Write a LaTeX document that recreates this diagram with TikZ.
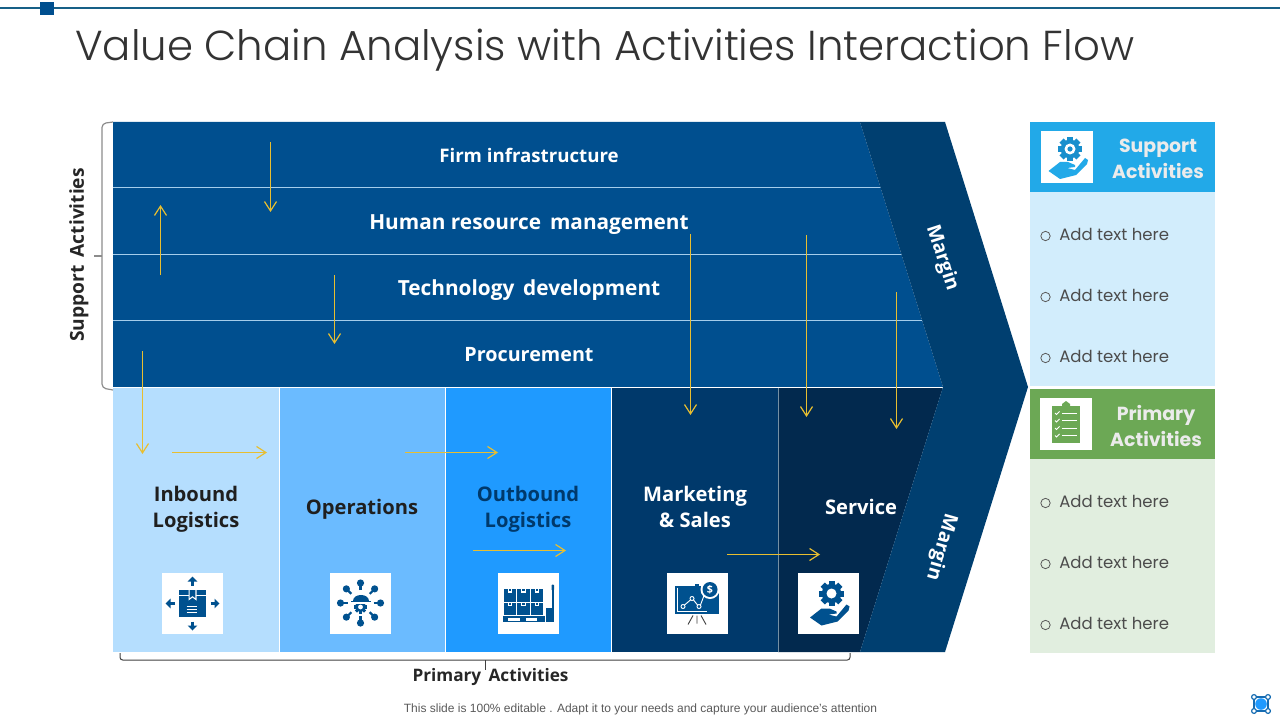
\documentclass[tikz,border=0pt]{standalone}
\usepackage{fontspec}
\setmainfont{Open Sans}
\newfontfamily\titlefont[UprightFont=* Light]{Poppins}
\newfontfamily\panelfont{Poppins}
\newfontfamily\footfont{Liberation Sans}
\definecolor{bandblue}{HTML}{004F8F}
\definecolor{chevblue}{HTML}{003F70}
\definecolor{colA}{HTML}{B5DEFE}
\definecolor{colB}{HTML}{6BBBFF}
\definecolor{colC}{HTML}{1F9AFF}
\definecolor{colD}{HTML}{00396B}
\definecolor{colE}{HTML}{02294E}
\definecolor{goldline}{HTML}{E8BE30}
\definecolor{rowline}{HTML}{A5CDEB}
\definecolor{supHead}{HTML}{22A9E8}
\definecolor{supBody}{HTML}{D2EDFC}
\definecolor{priHead}{HTML}{6CA855}
\definecolor{priBody}{HTML}{E1EEDF}
\definecolor{icon}{HTML}{00518F}
\usetikzlibrary{arrows.meta}
\tikzset{
  x=0.75pt,y=-0.75pt,
  flowarrow/.style={draw=goldline,line width=1pt,-{Straight Barb[length=7pt,width=9pt,line width=0.9pt]}},
  bandtext/.style={text=white,font=\fontsize{15.6}{18}\selectfont\bfseries,inner sep=0pt,anchor=base},
  coltext/.style={font=\fontsize{15.1}{19.5}\selectfont\bfseries,inner sep=0pt,align=center},
  margintext/.style={text=white,font=\fontsize{14.5}{17}\selectfont\bfseries,inner sep=0pt},
  sidelabel/.style={text=black!85,inner sep=0pt},
  headtext/.style={text=white!92!black,font=\panelfont\fontsize{14.2}{19.5}\selectfont\bfseries,inner sep=0pt,align=center},
  bullettext/.style={text=black!70,font=\panelfont\fontsize{12.4}{16}\selectfont,inner sep=0pt,anchor=west},
  bulletmark/.style={circle,draw=black!65,line width=0.6pt,minimum size=7pt,inner sep=0pt},
  iconbox/.style={fill=white,draw=none,minimum width=45.75pt,minimum height=45.75pt,inner sep=0pt},
  smallbox/.style={fill=white,draw=none,minimum width=39pt,minimum height=39pt,inner sep=0pt},
}
\newcommand{\gearshape}[4]{% x y outer colour
  \fill[#4] (#1,#2) circle ({#3*0.78});
  \foreach \a in {0,45,...,315}
    \fill[#4,rotate around={\a:(#1,#2)}] ({#1-#3*0.24},{#2-#3}) rectangle ({#1+#3*0.24},{#2});
}
\newcommand{\handshape}[2]{% scale colour
  \fill[#2,scale=#1,line join=round] (-18.5,14) -- (-7,5) -- (1,5) -- (8,8) -- (8,10) -- (0,11) -- (8,13) -- (18,1) -- (21,3) -- (20,7) -- (9,18) -- (-7,22) -- cycle;
}
\begin{document}
\begin{tikzpicture}
\useasboundingbox (0,0) rectangle (1280,720);
% top rule
\draw[color={rgb:red,19;green,79;blue,111},line width=1.5pt] (0,8) -- (1280,8);
\fill[bandblue] (40,2) rectangle (54,15);
\node[inner sep=0pt,anchor=base west,text=black!80,font=\titlefont\fontsize{31.4}{38}\selectfont] (title) at (75,61) {Value Chain Analysis with Activities Interaction Flow};
% columns
\fill[colA] (113,387) rectangle (279.5,652);
\fill[colB] (279.5,387) rectangle (445.5,652);
\fill[colC] (445.5,387) rectangle (611.5,652);
\fill[colD] (611.5,387) rectangle (778,652);
\fill[colE] (778,387) -- (943,387) -- (860,652) -- (778,652) -- cycle;
\draw[white,line width=0.75pt] (279.5,387) -- (279.5,652);
\draw[white,line width=0.75pt] (445.5,387) -- (445.5,652);
\draw[white,line width=0.75pt] (611.5,387) -- (611.5,652);
\draw[rowline!70!black,line width=0.75pt] (778,387) -- (778,652);
% band
\fill[bandblue] (113,122) -- (860,122) -- (943,387) -- (113,387) -- cycle;
\draw[rowline,line width=0.75pt] (113,188) -- (881,188);
\draw[rowline,line width=0.75pt] (113,254) -- (902,254);
\draw[rowline,line width=0.75pt] (113,320) -- (923,320);
\draw[white,line width=0.75pt] (113,387) -- (943,387);
% chevron
\fill[chevblue] (860,122) -- (945,122) -- (1028,387) -- (945,652) -- (860,652) -- (943,387) -- cycle;
% band text
\node[bandtext,font=\fontsize{14}{18}\selectfont\bfseries] (firm) at (529,163) {Firm infrastructure};
\node[bandtext] (hr) at (529,229) {Human resource\, management};
\node[bandtext] (tech) at (529,295) {Technology\, development};
\node[bandtext,font=\fontsize{14.8}{18}\selectfont\bfseries] (proc) at (529,361) {Procurement};
\node[margintext,rotate=-72] (m1) at (942,258) {Margin};
\node[margintext,rotate=-106] (m2) at (941,547) {Margin};
% columns text
\node[coltext,text=black!88] (inb) at (196,509) {Inbound\\Logistics};
\node[coltext,text=black!88] (ops) at (362,509) {Operations};
\node[coltext,text=colD] (outb) at (528,509) {Outbound\\Logistics};
\node[coltext,text=white] (mkt) at (695,507) {Marketing\\\& Sales};
\node[coltext,text=white] (svc) at (861,507) {Service};
% icon boxes
\node[iconbox] (i1) at (192.5,603.5) {};
\node[iconbox] (i2) at (360.5,603.5) {};
\node[iconbox] (i3) at (528.5,603.5) {};
\node[iconbox] (i4) at (697,603.5) {};
\node[iconbox] (i5) at (828.5,603.5) {};
% icon 1: parcel
\begin{scope}[shift={(192.5,603.5)}]
  \fill[icon] (-13.5,-13.5) rectangle (13.5,13.5);
  \draw[white,line width=0.4pt] (-13.5,-8) -- (13.5,-8);
  \fill[white] (-4,-13.5) -- (4,-13.5) -- (4,-3) -- (0,-6) -- (-4,-3) -- cycle;
  \fill[icon] (-2.8,-13.5) -- (2.8,-13.5) -- (2.8,-5.5) -- (0,-7.5) -- (-2.8,-5.5) -- cycle;
  \draw[white,line width=0.5pt] (-6,3) -- (4,3) (-6,6) -- (4,6) (-6,9) -- (4,9);
  \foreach \r in {0,90,180,270} {
    \begin{scope}[rotate=\r]
      \draw[icon,line width=1.6pt] (0,-18) -- (0,-23);
      \fill[icon] (-4.8,-22) -- (0,-27) -- (4.8,-22) -- cycle;
    \end{scope}
  }
\end{scope}
% icon 2: network helmet
\begin{scope}[shift={(360.5,603)}]
  \foreach \r in {0,45,...,315} {
    \begin{scope}[rotate=\r]
      \draw[icon,line width=1.6pt] (0,-13) -- (0,-18);
      \fill[icon] (0,-20) circle (3.6);
    \end{scope}
  }
  \gearshape{0}{4}{6.5}{icon}
  \fill[white] (0,4) circle (2.4);
  \fill[white] (-10,-1.8) rectangle (10,1);
  \fill[icon] (-8,-2) .. controls (-8,-10) and (8,-10) .. (8,-2) -- cycle;
  \fill[icon] (-10,-2) rectangle (10,-0.6);
\end{scope}
% icon 3: pallet
\begin{scope}[shift={(528.5,603.5)}]
  \foreach \y in {-14.5,-1} \foreach \x in {-24.5,-11.2,2.1} {
    \fill[icon] (\x,\y) rectangle ++(12.4,12.5);
    \fill[white] (\x+4,\y) rectangle ++(4.4,3.6);
    \fill[icon] (\x+5,\y) rectangle ++(2.4,2.4);
  }
  \fill[icon] (-25.5,12.5) rectangle (16.5,18.5);
  \fill[white] (-20.5,14.5) rectangle (-8.5,17);
  \fill[white] (-2.5,14.5) rectangle (8.5,17);
  \fill[icon] (23.5,-18) rectangle (25,8);
  \fill[icon,rounded corners=0.6pt] (23,-19) rectangle (25.5,-13);
  \fill[icon] (17.5,4.5) rectangle (25,18.5);
\end{scope}
% icon 4: chart
\begin{scope}[shift={(697,603.5)}]
  \fill[icon] (-22,-18) rectangle (22,10);
  \fill[icon] (-2,-20) rectangle (2,-18);
  \draw[white,line width=0.5pt] (-20,-16) -- (-20,8) -- (10,8);
  \fill[white] (13,-14) circle (9.5);
  \fill[icon] (13,-14) circle (7.5);
  \node[inner sep=0pt,text=white,font=\fontsize{8}{8}\selectfont\bfseries] (dollar) at (13,-14) {\$};
  \draw[white,line width=0.7pt,fill=icon] (-14,3) circle (2) (-5,-5) circle (2) (2,3) circle (2);
  \draw[white,line width=0.7pt] (-12.5,1.5) -- (-6.5,-3.5) (-3.5,-3.5) -- (0.5,1.5) (3.5,1.5) -- (7,-8);
  \draw[black!75,line width=0.7pt] (-9,21) -- (-4,12) (0,12) -- (0,20) (9,21) -- (4,12);
\end{scope}
% icon 5: hand with gear
\begin{scope}[shift={(828.5,603.5)}]
  \gearshape{3}{-10}{12.5}{icon}
  \fill[white] (3,-10) circle (5);
  \handshape{1}{icon}
\end{scope}
% flow arrows
\coordinate (a1s) at (270.5,142); \coordinate (a1e) at (270.5,212);
\coordinate (a2s) at (160.5,275); \coordinate (a2e) at (160.5,205);
\coordinate (a3s) at (334.5,275); \coordinate (a3e) at (334.5,344);
\coordinate (a4s) at (142.5,351); \coordinate (a4e) at (142.5,454);
\coordinate (a5s) at (172,452.5); \coordinate (a5e) at (267,452.5);
\coordinate (a6s) at (405,452.5); \coordinate (a6e) at (498,452.5);
\coordinate (a7s) at (473,550.5); \coordinate (a7e) at (566,550.5);
\coordinate (a8s) at (727,554.5); \coordinate (a8e) at (820,554.5);
\coordinate (a9s) at (690.5,234); \coordinate (a9e) at (690.5,415);
\coordinate (a10s) at (806.5,235); \coordinate (a10e) at (806.5,417);
\coordinate (a11s) at (896.5,292); \coordinate (a11e) at (896.5,429);
\foreach \n in {1,...,11} \draw[flowarrow] (a\n s) -- (a\n e);
% brackets
\draw[black!45,line width=0.9pt,rounded corners=3pt] (113,122) -- (102,123.5) -- (102,255) -- (102,388) -- (113,390);
\draw[black!45,line width=0.9pt] (94,256) -- (102,256);
\draw[black!75,line width=0.75pt,rounded corners=2pt] (120,653) -- (120,660) -- (850,660) -- (850,653);
\draw[black!75,line width=0.75pt] (485,660) -- (485,670);
\node[sidelabel,rotate=90,font=\fontsize{14.4}{17}\selectfont\bfseries] (sup) at (79,255) {Support\, Activities};
\node[sidelabel,font=\fontsize{12.9}{16}\selectfont\bfseries] (pri) at (490.5,677) {Primary\, Activities};
\node[inner sep=0pt,text=black!65,font=\footfont\fontsize{9}{11}\selectfont] (foot) at (640.5,709) {This slide is 100\% editable . Adapt it to your needs and capture your audience’s attention};
% support panel
\fill[supBody] (1030,192) rectangle (1215,386);
\fill[supHead] (1030,122) rectangle (1215,192);
\node[smallbox] (s1) at (1067,157) {};
\begin{scope}[shift={(1067,157)}]
  \gearshape{3}{-8}{12}{supHead!70!icon}
  \fill[white] (3,-8) circle (5.5);
  \fill[supHead!70!icon] (3,-8) circle (2.6);
  \handshape{1}{supHead}
\end{scope}
\node[headtext] (supt) at (1158,158.5) {Support\\Activities};
\foreach \y/\n in {234/1,295/2,356/3} {
  \node[bulletmark] (sb\n) at (1045.5,\y+2) {};
  \node[bullettext] (st\n) at (1059,\y) {Add text here};
}
% primary panel
\fill[priBody] (1030,459) rectangle (1215,653);
\fill[priHead] (1030,389) rectangle (1215,459);
\node[smallbox] (p1) at (1066,424) {};
\begin{scope}[shift={(1066,424)}]
  \fill[priHead] (-14,-18) rectangle (14,19);
  \fill[priHead] (-4,-20) -- (0,-23) -- (4,-20) -- (4,-17) -- (-4,-17) -- cycle;
  \foreach \y in {-11,-3.5,4,11.5} {
    \draw[white,line width=0.6pt] (-4,\y) -- (11,\y);
    \draw[white,line width=0.7pt] (-11,\y) -- (-9.5,\y+1.5) -- (-6.5,\y-1.5);
  }
\end{scope}
\node[headtext] (prit) at (1156,425.5) {Primary\\Activities};
\foreach \y/\n in {501/1,562/2,623/3} {
  \node[bulletmark] (pb\n) at (1045.5,\y+2) {};
  \node[bullettext] (pt\n) at (1059,\y) {Add text here};
}
% corner logo
\begin{scope}[shift={(1261,704)}]
  \fill[colC] (0,0) circle (5.8);
  \draw[colC!70!black,line width=0.8pt] (-7,-7) -- (7,-7) -- (7,7) -- (-7,7) -- cycle;
  \foreach \x/\y in {-7/-7,7/-7,7/7,-7/7} \draw[colC!70!black,fill=white,line width=0.9pt] (\x,\y) circle (2.4);
\end{scope}
\end{tikzpicture}
\end{document}
